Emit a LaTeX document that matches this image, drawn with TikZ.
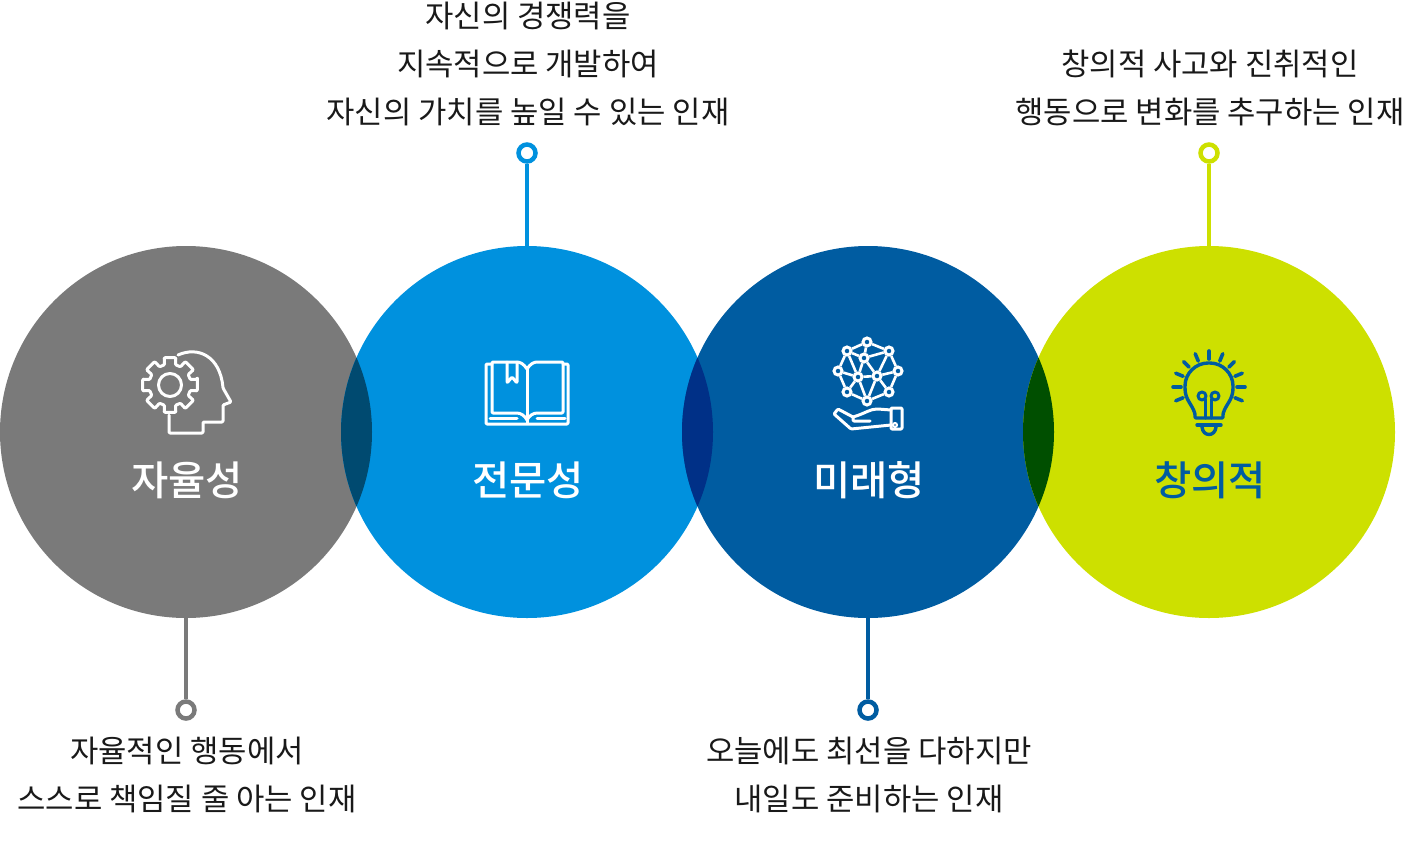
\documentclass[tikz,border=0pt]{standalone}
\usepackage{fontspec}
\setmainfont{Noto Sans CJK KR}
\newfontfamily\titlefont{Noto Sans CJK KR Medium}
\definecolor{grayc}{HTML}{7A7A7A}
\definecolor{bluec}{HTML}{0091DE}
\definecolor{navyc}{HTML}{005CA1}
\definecolor{limec}{HTML}{CDE000}
\definecolor{lapa}{HTML}{004A70}
\definecolor{lapb}{HTML}{003087}
\definecolor{lapc}{HTML}{004F00}
\begin{document}
\begin{tikzpicture}[
        x = 1pt, y = -1pt,
        disc/.style = {circle, inner sep = 0mm, minimum size = 372pt},
        ring/.style = {draw, circle, fill = white, line width = 4.5pt, inner sep = 0mm, minimum size = 17pt},
        lead/.style = {draw, line width = 4.2pt},
        caption/.style = {align = center, text = black!90, font = \fontsize{30.8}{48}\selectfont},
        title/.style = {font = \fontsize{40.5}{48}\titlefont},
        ico/.style = {draw, line width = 3pt, line join = round, line cap = round, rounded corners = 1pt},
    ]
    \useasboundingbox (0, 0) rectangle (1405, 844);

    \node (S) at (186, 432) [disc, fill = grayc] {};
    \node (E) at (527, 432) [disc, fill = bluec] {};
    \node (F) at (868, 432) [disc, fill = navyc] {};
    \node (C) at (1209, 432) [disc, fill = limec] {};

    % overlaps
    \begin{scope}
        \clip (186, 432) circle (186);
        \fill[lapa] (527, 432) circle (186);
    \end{scope}
    \begin{scope}
        \clip (527, 432) circle (186);
        \fill[lapb] (868, 432) circle (186);
    \end{scope}
    \begin{scope}
        \clip (868, 432) circle (186);
        \fill[lapc] (1209, 432) circle (186);
    \end{scope}

    \node (RS) at (186, 710) [ring, draw = grayc] {};
    \node (RE) at (527, 153) [ring, draw = bluec] {};
    \node (RF) at (868, 710) [ring, draw = navyc] {};
    \node (RC) at (1209, 153) [ring, draw = limec] {};

    \path[lead, draw = grayc] (S.south) -- (RS);
    \path[lead, draw = bluec] (E.north) -- (RE);
    \path[lead, draw = navyc] (F.south) -- (RF);
    \path[lead, draw = limec] (C.north) -- (RC);

    \node (TS) at (187, 480) [title, text = white] {자율성};
    \node (TE) at (528, 480) [title, text = white] {전문성};
    \node (TF) at (869, 480) [title, text = white] {미래형};
    \node (TC) at (1210, 480) [title, text = navyc] {창의적};

    \node (LS) at (187, 775) [caption] {자율적인 행동에서\\스스로 책임질 줄 아는 인재};
    \node (LE) at (528, 64) [caption] {자신의 경쟁력을\\지속적으로 개발하여\\자신의 가치를 높일 수 있는 인재};
    \node (LF) at (869, 775) [caption] {오늘에도 최선을 다하지만\\내일도 준비하는 인재};
    \node (LC) at (1210, 88) [caption] {창의적 사고와 진취적인\\행동으로 변화를 추구하는 인재};

    % head with gear
    \begin{scope}[white, shift = {(170, 385)}]
        \draw[ico] (0, 0) circle (11.5);
        \draw[ico] (-12:28)
            \foreach \a in {0, 45, ..., 315} {
                -- (\a-12:28) -- (\a+12:28) -- (\a+15:21) -- (\a+30:21)
            } -- cycle;
    \end{scope}
    \path[ico, white] (178, 355) .. controls (198, 346) and (220, 356) .. (223, 388)
        -- (231, 402) -- (223, 405) -- (223, 422) -- (203, 422) -- (203, 433) -- (169, 433) -- (169, 415);

    % book
    \begin{scope}[white]
        \path[ico] (492, 364) -- (486, 364) -- (486, 424) -- (568, 424) -- (568, 364) -- (563, 364);
        \path[ico] (527, 369) .. controls (524, 364) and (520, 362) .. (516, 362) -- (492, 362) -- (492, 413) -- (516, 413)
            .. controls (521, 413) and (525, 416) .. (527, 420);
        \path[ico] (527, 369) .. controls (530, 364) and (534, 362) .. (538, 362) -- (563, 362) -- (563, 413) -- (538, 413)
            .. controls (533, 413) and (529, 416) .. (527, 420);
        \path[ico] (527, 369) -- (527, 423);
        \path[ico] (490, 418) -- (517, 418);
        \path[ico] (537, 418) -- (565, 418);
        \path[ico] (507, 362) -- (507, 383) -- (512, 377) -- (517, 383) -- (517, 362);
    \end{scope}

    % network on a hand
    \begin{scope}[white]
        \foreach \name/\pos in {a/{867, 342}, b/{889, 351}, c/{898, 371}, d/{889, 392}, e/{867, 401}, f/{847, 392}, g/{838, 371}, h/{847, 351}, i/{864, 358}, j/{858, 377}, k/{877, 376}}
            \node (\name) at (\pos) [draw, circle, line width = 3pt, inner sep = 0mm, minimum size = 8pt] {};
        \foreach \p/\q in {a/b, b/c, c/d, d/e, e/f, f/g, g/h, h/a, a/i, h/i, b/i, g/j, i/j, i/k, j/k, j/f, j/e, k/e, k/d, k/c, h/j, k/b}
            \path[draw, line width = 2.6pt] (\p) -- (\q);
        \path[ico] (891, 410) -- (878, 409) .. controls (870, 409) and (866, 413) .. (853, 417) -- (853, 421) -- (870, 421);
        \path[ico] (853, 417) -- (838, 409) -- (834, 414) -- (851, 429) -- (891, 425);
        \path[ico] (891, 408) rectangle (902, 429);
        \node (dot) at (895, 425) [draw, circle, line width = 2pt, inner sep = 0mm, minimum size = 4pt] {};
    \end{scope}

    % light bulb
    \begin{scope}[navyc]
        \foreach \a in {22.5, 0, -22.5, ..., -202.5}
            \path[ico, line width = 3.6pt] (1209, 387) ++(\a:28) -- ++(\a:8);
        \path[ico, line width = 3.4pt] (1195, 418) -- (1195, 414) .. controls (1192, 404) and (1185, 400) .. (1185, 387)
            .. controls (1185, 373) and (1196, 363) .. (1209, 363)
            .. controls (1222, 363) and (1233, 373) .. (1233, 387)
            .. controls (1233, 400) and (1226, 404) .. (1223, 414) -- (1223, 418) -- cycle;
        \path[ico, line width = 3.4pt] (1197, 425) -- (1221, 425);
        \path[ico, line width = 3.4pt] (1202, 427) .. controls (1203, 437) and (1215, 437) .. (1216, 427);
        \path[ico, line width = 3pt] (1202, 396) circle (4);
        \path[ico, line width = 3pt] (1215, 396) circle (4);
        \path[ico, line width = 3pt] (1205.5, 399) -- (1205.5, 418);
        \path[ico, line width = 3pt] (1211.5, 399) -- (1211.5, 418);
    \end{scope}
\end{tikzpicture}
\end{document}
